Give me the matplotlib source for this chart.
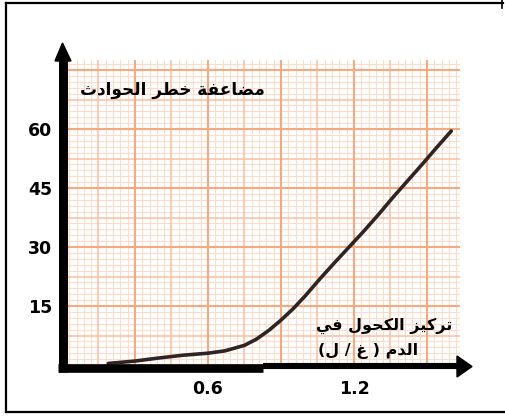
import numpy as np
import matplotlib
matplotlib.use("Agg")
import matplotlib.pyplot as plt
from matplotlib.lines import Line2D
from matplotlib.patches import Polygon

# ---------------- data ----------------
x_vals = [0.19, 0.30, 0.40, 0.50, 0.60, 0.67, 0.75, 0.80, 0.85, 0.90,
          0.95, 1.00, 1.06, 1.12, 1.18, 1.24, 1.30, 1.36, 1.42, 1.48,
          1.54, 1.60]
y_vals = [0.4, 1.0, 1.8, 2.5, 3.0, 3.6, 5.0, 6.6, 8.8, 11.4,
          14.3, 17.6, 21.9, 26.0, 30.0, 34.0, 38.2, 42.6, 46.8, 51.0,
          55.3, 59.5]
x_ticks = [0.6, 1.2]
x_tick_labels = ["0.6", "1.2"]
y_ticks = [15, 30, 45, 60]
y_tick_labels = ["15", "30", "45", "60"]
y_title = "مضاعفة خطر الحوادث"
x_title_lines = ["تركيز الكحول في", "الدم ( غ / ل)"]

# ---------------- simple Arabic shaping ----------------
FORMS = {
    'ا': (0xFE8D, 0xFE8E, None, None), 'ب': (0xFE8F, 0xFE90, 0xFE91, 0xFE92),
    'ة': (0xFE93, 0xFE94, None, None), 'ت': (0xFE95, 0xFE96, 0xFE97, 0xFE98),
    'ث': (0xFE99, 0xFE9A, 0xFE9B, 0xFE9C), 'ج': (0xFE9D, 0xFE9E, 0xFE9F, 0xFEA0),
    'ح': (0xFEA1, 0xFEA2, 0xFEA3, 0xFEA4), 'خ': (0xFEA5, 0xFEA6, 0xFEA7, 0xFEA8),
    'د': (0xFEA9, 0xFEAA, None, None), 'ذ': (0xFEAB, 0xFEAC, None, None),
    'ر': (0xFEAD, 0xFEAE, None, None), 'ز': (0xFEAF, 0xFEB0, None, None),
    'س': (0xFEB1, 0xFEB2, 0xFEB3, 0xFEB4), 'ش': (0xFEB5, 0xFEB6, 0xFEB7, 0xFEB8),
    'ص': (0xFEB9, 0xFEBA, 0xFEBB, 0xFEBC), 'ض': (0xFEBD, 0xFEBE, 0xFEBF, 0xFEC0),
    'ط': (0xFEC1, 0xFEC2, 0xFEC3, 0xFEC4), 'ظ': (0xFEC5, 0xFEC6, 0xFEC7, 0xFEC8),
    'ع': (0xFEC9, 0xFECA, 0xFECB, 0xFECC), 'غ': (0xFECD, 0xFECE, 0xFECF, 0xFED0),
    'ف': (0xFED1, 0xFED2, 0xFED3, 0xFED4), 'ق': (0xFED5, 0xFED6, 0xFED7, 0xFED8),
    'ك': (0xFED9, 0xFEDA, 0xFEDB, 0xFEDC), 'ل': (0xFEDD, 0xFEDE, 0xFEDF, 0xFEE0),
    'م': (0xFEE1, 0xFEE2, 0xFEE3, 0xFEE4), 'ن': (0xFEE5, 0xFEE6, 0xFEE7, 0xFEE8),
    'ه': (0xFEE9, 0xFEEA, 0xFEEB, 0xFEEC), 'و': (0xFEED, 0xFEEE, None, None),
    'ى': (0xFEEF, 0xFEF0, None, None), 'ي': (0xFEF1, 0xFEF2, 0xFEF3, 0xFEF4),
}


def shape_rtl(s):
    out = []
    for i, c in enumerate(s):
        if c not in FORMS:
            out.append(c)
            continue
        prev = s[i - 1] if i > 0 else None
        nxt = s[i + 1] if i + 1 < len(s) else None
        pj = prev in FORMS and FORMS[prev][2] is not None
        nj = nxt in FORMS and FORMS[c][2] is not None
        f = FORMS[c]
        if pj and nj:
            code = f[3]
        elif pj:
            code = f[1]
        elif nj:
            code = f[2]
        else:
            code = f[0]
        out.append(chr(code))
    vis = ''.join(reversed(out))
    return vis.translate(str.maketrans({'(': ')', ')': '('}))


# ---------------- figure ----------------
W, H = 505, 417
fig = plt.figure(figsize=(W / 100, H / 100), dpi=100)
fig.patch.set_facecolor('white')

L, R, T, B = 62, 460, 60, 365
ax = fig.add_axes([L / W, 1 - B / H, (R - L) / W, (B - T) / H])
ax.set_xlim(0, (R - L) / 243.3)
ax.set_ylim(0, (B - T) / 3.933)
for s in ax.spines.values():
    s.set_visible(False)

xmax = ax.get_xlim()[1]
ymax = ax.get_ylim()[1]
fine_c, mid_c, maj_c = '#fcdccb', '#f9c4a6', '#f6a87e'
for i, xv in enumerate(np.arange(0, xmax, 0.03)):
    if i % 10 == 0:
        ax.axvline(xv, color=maj_c, lw=1.5, zorder=2)
    elif i % 5 == 0:
        ax.axvline(xv, color=mid_c, lw=1.2, zorder=1.5)
    else:
        ax.axvline(xv, color=fine_c, lw=0.8, zorder=1)
for i, yv in enumerate(np.arange(0, ymax, 1.5)):
    if i % 10 == 0:
        ax.axhline(yv, color=maj_c, lw=1.5, zorder=2)
    elif i % 5 == 0:
        ax.axhline(yv, color=mid_c, lw=1.2, zorder=1.5)
    else:
        ax.axhline(yv, color=fine_c, lw=0.8, zorder=1)

ax.plot(x_vals, y_vals, color='#2e2424', lw=2.6, solid_capstyle='round',
        solid_joinstyle='round', zorder=5)

ax.set_xticks(x_ticks)
ax.set_xticklabels(x_tick_labels)
ax.set_yticks(y_ticks)
ax.set_yticklabels(y_tick_labels)
ax.tick_params(length=0, labelsize=12.5)
ax.tick_params(axis='x', pad=11)
ax.tick_params(axis='y', pad=7)
for lab in ax.get_xticklabels() + ax.get_yticklabels():
    lab.set_fontweight('bold')
    lab.set_fontfamily(['DejaVu Sans'])

ax.text(0.074, 70.0, shape_rtl(y_title), fontsize=12.2, fontweight='bold',
        family=['DejaVu Sans'], ha='left', va='center', zorder=6)
ax.text(1.044, 9.9, shape_rtl(x_title_lines[0]), fontsize=11.5, fontweight='bold',
        family=['DejaVu Sans'], ha='left', va='center', zorder=6)
ax.text(1.054, 3.6, shape_rtl(x_title_lines[1]), fontsize=11.5, fontweight='bold',
        family=['DejaVu Sans'], ha='left', va='center', zorder=6)

# ---------------- decorative overlay (frame + axis arrows) ----------------
ov = fig.add_axes([0, 0, 1, 1], zorder=10)
ov.set_xlim(0, W)
ov.set_ylim(H, 0)
ov.axis('off')
ov.patch.set_alpha(0)

# outer frame
ov.add_line(Line2D([6, 6], [3, 412], color='k', lw=1.6))
ov.add_line(Line2D([6, 503], [3, 3], color='k', lw=1.6))
ov.add_line(Line2D([6, 505], [412, 412], color='k', lw=1.6))
ov.add_line(Line2D([502, 502], [0, 8], color='k', lw=1.2))

# y axis
ov.add_line(Line2D([62.5, 62.5], [372, 59], color='k', lw=6.5, solid_capstyle='butt'))
ov.add_patch(Polygon([[55, 61], [71, 61], [62.5, 43]], closed=True, color='k'))
# x axis
ov.add_line(Line2D([58, 263], [367.5, 367.5], color='k', lw=6.2, solid_capstyle='butt'))
ov.add_line(Line2D([263, 458], [366.3, 366.3], color='k', lw=4.4, solid_capstyle='butt'))
ov.add_patch(Polygon([[457, 356], [457, 377], [472, 366.5]], closed=True, color='k'))

fig.savefig('out.png', dpi=100, facecolor='white')
